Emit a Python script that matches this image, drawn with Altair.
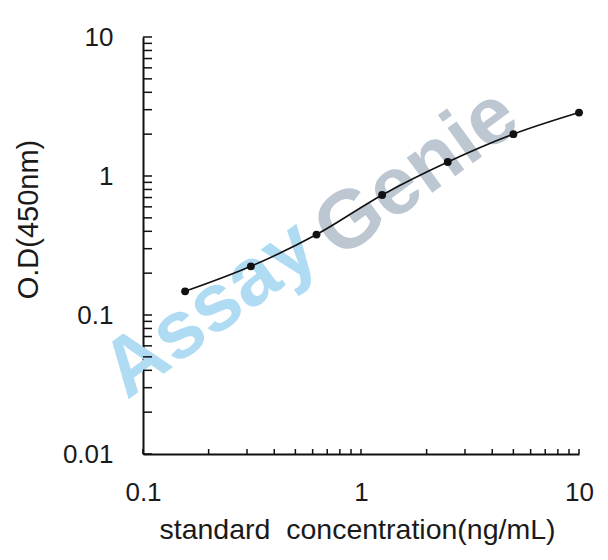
import altair as alt
import pandas as pd

# data
conc = [0.156, 0.3125, 0.625, 1.25, 2.5, 5, 10]
od = [0.148, 0.224, 0.379, 0.73, 1.26, 2.0, 2.86]

y_ticks = [0.01, 0.02, 0.03, 0.04, 0.05, 0.06, 0.07, 0.08, 0.09,
           0.1, 0.2, 0.3, 0.4, 0.5, 0.6, 0.7, 0.8, 0.9,
           1, 2, 3, 4, 5, 6, 7, 8, 9, 10]
x_ticks = [0.1, 0.2, 0.3, 0.4, 0.5, 0.6, 0.7, 0.8, 0.9,
           1, 2, 3, 4, 5, 6, 7, 8, 9, 10]
y_labels = [0.01, 0.1, 1, 10]
x_labels = [0.1, 1, 10]

wm_text = ["Assay", "Genie"]
wm_x = [0.203, 1.80]
wm_y = [0.110, 1.05]
wm_color = ["#b0dcf3", "#bcc7d2"]

df = pd.DataFrame({"conc": conc, "od": od})
wm = pd.DataFrame({"t": wm_text, "x": wm_x, "y": wm_y, "c": wm_color})
yt = pd.DataFrame({"v": y_ticks})
xt = pd.DataFrame({"v": x_ticks})

W, H = 436, 417
FONT = "Liberation Sans"

xscale = alt.Scale(type="log", domain=[0.1, 10])
yscale = alt.Scale(type="log", domain=[0.01, 10])

xaxis = alt.Axis(values=x_labels, format="~g", ticks=False, tickSize=0, grid=False,
                 labelPadding=25, labelFontSize=26, labelFont=FONT, labelColor="#1a1a1a",
                 domainColor="#111111", domainWidth=2,
                 title="standard\u00a0 concentration(ng/mL)", titleFont=FONT,
                 titleFontSize=28.5, titleFontWeight="normal", titleColor="#1a1a1a",
                 titleX=214, titleY=75, titleAlign="center", titleBaseline="middle",
                 labelFlush=False)
yaxis = alt.Axis(values=y_labels, format="~g", ticks=False, tickSize=0, grid=False,
                 labelPadding=30, labelFontSize=26, labelFont=FONT, labelColor="#1a1a1a",
                 domainColor="#111111", domainWidth=2,
                 title="O.D(450nm)", titleFont=FONT, titleFontSize=29,
                 titleFontWeight="normal", titleColor="#1a1a1a",
                 titleX=-115, titleY=182, titleAlign="center", titleBaseline="middle",
                 titleAngle=270, labelFlush=False)

watermark = alt.Chart(wm).mark_text(angle=324, font=FONT, fontWeight="bold", fontSize=82,
                                    align="center", baseline="middle").encode(
    x=alt.X("x:Q", scale=xscale, axis=xaxis),
    y=alt.Y("y:Q", scale=yscale, axis=yaxis),
    text="t:N",
    color=alt.Color("c:N", scale=None),
)

line = alt.Chart(df).mark_line(color="#111111", strokeWidth=1.6, interpolate="monotone").encode(
    x=alt.X("conc:Q", scale=xscale),
    y=alt.Y("od:Q", scale=yscale),
)
pts = alt.Chart(df).mark_circle(color="#111111", size=62, opacity=1).encode(
    x=alt.X("conc:Q", scale=xscale),
    y=alt.Y("od:Q", scale=yscale),
)

ytick = alt.Chart(yt).mark_rule(color="#111111", strokeWidth=1.5).encode(
    y=alt.Y("v:Q", scale=yscale),
    x=alt.value(0), x2=alt.value(9),
)
xtick = alt.Chart(xt).mark_rule(color="#111111", strokeWidth=1.5).encode(
    x=alt.X("v:Q", scale=xscale),
    y=alt.value(H), y2=alt.value(H - 5),
)

chart = alt.layer(watermark, ytick, xtick, line, pts).properties(
    width=W, height=H,
    autosize=alt.AutoSizeParams(type="none"),
    padding={"left": 135, "top": 29, "right": 21, "bottom": 98},
    background="white",
).configure_view(stroke=None)

chart.save("out.html", embed_options={"renderer": "svg", "actions": False})
